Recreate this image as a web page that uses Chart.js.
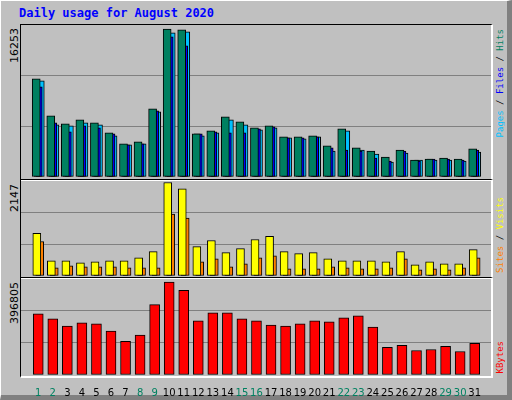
<!DOCTYPE html>
<html>
<head>
<meta charset="utf-8">
<script src="https://cdn.jsdelivr.net/npm/chart.js@4"></script>
<style>
  body { margin:0; background:#c0c0c0; }
  #win { position:absolute; left:0; top:0; width:506px; height:394px; background:#c0c0c0;
         border-top:1px solid #fff; border-left:1px solid #fff; border-right:5px solid #808080; border-bottom:5px solid #808080; }
  .frame { position:absolute; left:20px; width:470px; border:1px solid #000; border-right:2px solid #fff; border-bottom:2px solid #fff; }
  canvas { position:absolute; }
  .t { position:absolute; font-family:"DejaVu Sans Mono",monospace; }
  .v { position:absolute; writing-mode:vertical-rl; transform:rotate(180deg); font-family:"DejaVu Sans Mono",monospace; font-size:9px; white-space:nowrap; }
  .n { position:absolute; writing-mode:vertical-rl; transform:rotate(180deg); font-family:"DejaVu Sans",sans-serif; font-size:11px; color:#000; }
</style>
</head>
<body>
<div id="win"></div>
<div class="t" style="left:19px;top:6px;color:#0000ff;font-weight:bold;font-size:12px">Daily usage for August 2020</div>
<div class="frame" style="top:24px;height:154px"></div>
<div class="frame" style="top:179px;height:97px"></div>
<div class="frame" style="top:277px;height:98px"></div>
<div class="n" style="left:8px;top:28px">16253</div>
<div class="n" style="left:8px;top:184px">2147</div>
<div class="n" style="left:8px;top:282px">396805</div>
<div class="v" style="left:495px;top:29px"><span style="color:#00c0ff">Pages</span> / <span style="color:#0000ff">Files</span> / <span style="color:#008060">Hits</span></div>
<div class="v" style="left:495px;top:197px"><span style="color:#ff8000">Sites</span> / <span style="color:#ffff00">Visits</span></div>
<div class="v" style="left:495px;top:341px;color:#ff0000">KBytes</div>
<canvas id="c1" style="left:21px;top:25px;width:470px;height:152px"></canvas>
<canvas id="c2" style="left:21px;top:180px;width:470px;height:96px"></canvas>
<canvas id="c3" style="left:21px;top:278px;width:470px;height:119px"></canvas>
<script>
const days = Array.from({length:31}, (_, i) => i + 1);
const weekend = [1,2,8,9,15,16,22,23,29,30];
const hits  = [10780,6710,5830,6270,5940,4840,3630,3850,7480,16253,16170,4730,5060,6600,6050,5390,5610,4400,4400,4510,3410,5280,3190,2860,2200,2970,1870,1980,2090,1980,3080];
const files = [9900,5940,4950,5610,5390,4730,3520,3630,7260,15400,14410,4730,4950,4840,4840,5280,5500,4290,4290,4400,3190,2970,2860,2090,1760,2860,1760,1980,1980,1870,2970];
const pages = [10560,5720,5610,5940,5720,4510,3520,3630,7150,15840,15950,4510,4840,6270,5720,5170,5390,4290,4180,4400,2860,5060,2970,2530,1650,2640,1870,1870,1870,1760,2750];
const sites = [979,350,350,303,326,350,350,419,559,2147,2004,676,816,536,629,839,909,559,513,536,396,350,350,350,326,559,256,326,280,280,606];
const visits = [792,186,233,210,210,210,186,186,186,1421,1328,326,396,210,280,419,466,163,163,163,210,186,163,163,186,396,140,163,140,186,419];
const kbytes = [261600,239800,209300,222400,218000,187500,143900,170000,300800,396805,361900,231100,266000,266000,239800,231100,213600,209300,218000,231100,226700,244200,252900,204900,117700,126400,104600,109000,122100,100300,135200];

function pts(arr, shift) { return arr.map((v, i) => ({x: days[i] + shift, y: v})); }
function ds(arr, shift, color, w) {
  return {data: pts(arr, shift), backgroundColor: color, borderColor: '#000', borderWidth: 1,
          borderSkipped: false, barThickness: w, grouped: false};
}
function opts(max, showX) {
  const x = {type: 'linear', min: 0.335, max: 31.6, display: showX,
             grid: {display: false}, border: {display: false},
             afterBuildTicks: s => { s.ticks = days.map(d => ({value: d})); },
             ticks: {autoSkip: false, maxRotation: 0, padding: 4,
                     color: c => weekend.includes(c.tick.value) ? '#008060' : '#000',
                     font: {family: 'DejaVu Sans', size: 10}}};
  if (showX) x.afterFit = s => { s.height = 22; };
  return {
    responsive: false, animation: false, devicePixelRatio: 1,
    layout: {padding: 0},
    plugins: {legend: {display: false}, tooltip: {enabled: false}},
    scales: {
      x: x,
      y: {min: 0, max: max, ticks: {display: false, stepSize: max / 3},
          border: {display: false},
          grid: {drawTicks: false, color: c => (c.tick.value > 0 && c.tick.value < max - 1) ? '#808080' : 'rgba(0,0,0,0)'}}
    }
  };
}
function make(id, h, datasets, max, showX) {
  const el = document.getElementById(id);
  el.width = 470; el.height = h;
  new Chart(el, {type: 'bar', data: {datasets}, options: opts(max, showX)});
}
make('c1', 152, [ds(hits, -0.14, '#008060', 8), ds(files, 0, '#0000ff', 8), ds(pages, 0.14, '#00c0ff', 8)], 16253 * 152 / 148, false);
make('c2', 96, [ds(sites, -0.1, '#ffff00', 8), ds(visits, 0.1, '#ff8000', 8)], 2147 * 94.5 / 92, false);
make('c3', 119, [ds(kbytes, 0, '#ff0000', 10)], 396805 * 95 / 91, true);
</script>
</body>
</html>
